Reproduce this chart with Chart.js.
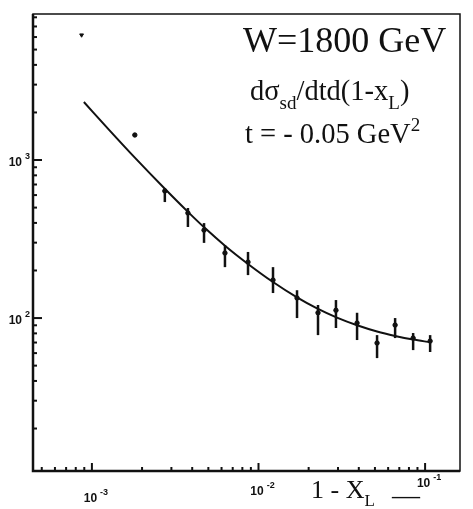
<!DOCTYPE html>
<html>
<head>
<meta charset="utf-8">
<script src="https://cdn.jsdelivr.net/npm/chart.js@4.4.0/dist/chart.umd.min.js"></script>
<style>
  html, body { margin: 0; padding: 0; background: #fff; }
</style>
</head>
<body>
<canvas id="sdChart" width="473" height="509"></canvas>
<script>
// measured points, 1 - x_L
var pointX = [8.67e-4, 1.81e-3, 2.74e-3, 3.77e-3, 4.71e-3, 6.29e-3, 8.65e-3, 0.01222,
              0.01703, 0.02276, 0.02917, 0.03905, 0.05148, 0.06607, 0.08476, 0.1072];
// d sigma_sd / dt d(1-x_L)
var pointY = [6180, 1440, 637, 462, 360, 258, 226, 174, 134, 108, 112, 93, 69.5, 90.3, 74.7, 71.5];
// error bar ends (null = no bar visible)
var errHigh = [null, null, 665, 497, 399, 290, 262, 210, 150, 121, 130, 108, 78, 100, 80.4, 78];
var errLow  = [null, null, 542, 377, 299, 210, 187, 144, 100, 78, 86.5, 72.6, 55.8, 74.7, 62.7, 61];

// fitted curve
var fitX = [8.95e-4, 1.28e-3, 1.81e-3, 2.74e-3, 3.77e-3, 4.77e-3, 6.29e-3, 8.65e-3, 0.01222,
            0.01703, 0.02245, 0.02958, 0.03905, 0.05148, 0.06607, 0.08476, 0.1072];
var fitY = [2328, 1535, 1035, 658, 470, 371, 287, 220, 169, 135, 115, 100.6, 90.0, 82.2, 77.1, 73.1, 70.3];

var xLabels = [1e-3, 1e-2, 1e-1];
var yLabels = [1e2, 1e3];

function isPow10(v)
{
    var l = Math.log10(v);
    return Math.abs(l - Math.round(l)) < 1e-6;
}

// only 1..9 x 10^k, skips the min/max end ticks
function isNice(v)
{
    var m = v / Math.pow(10, Math.floor(Math.log10(v) + 1e-9));
    return Math.abs(m - Math.round(m)) < 1e-6;
}

function inList(v, list)
{
    for (var i = 0; i < list.length; i++) {
        if (Math.abs(v / list[i] - 1) < 1e-6) return true;
    }
    return false;
}

// "10" with a raised exponent; align 'center' or 'right'
function drawPow(ctx, v, x, y, align)
{
    var e = String(Math.round(Math.log10(v)));
    ctx.font = 'bold 12px "Liberation Sans"';
    var wb = ctx.measureText('10').width;
    ctx.font = 'bold 9px "Liberation Sans"';
    var we = ctx.measureText(e).width;
    var gap = 3;
    var x0 = align === 'right' ? x - wb - gap - we : x - (wb + gap + we) / 2;
    ctx.font = 'bold 12px "Liberation Sans"';
    ctx.fillText('10', x0, y);
    ctx.font = 'bold 9px "Liberation Sans"';
    ctx.fillText(e, x0 + wb + gap, y - 7);
}

// draws a line of text made of normal / sub / sup parts
function drawRich(ctx, x, y, size, parts)
{
    parts.forEach(function (p) {
        var s = p.k ? Math.round(size * 0.65) : size;
        ctx.font = s + 'px "Liberation Serif"';
        var dy = p.k === 'sub' ? size * 0.3 : (p.k === 'sup' ? -size * 0.42 : 0);
        ctx.fillText(p.t, x, y + dy);
        x += ctx.measureText(p.t).width;
    });
}

var framePlugin = {
    id: 'framePlugin',
    beforeDraw: function (chart) {
        var ctx = chart.ctx;
        ctx.save();
        ctx.fillStyle = '#fff';
        ctx.fillRect(0, 0, chart.width, chart.height);
        ctx.restore();
    },
    afterDatasetsDraw: function (chart) {
        var ctx = chart.ctx, xs = chart.scales.x, ys = chart.scales.y;
        ctx.save();
        ctx.strokeStyle = '#111';
        ctx.lineWidth = 2.5;
        for (var i = 0; i < pointX.length; i++) {
            if (errHigh[i] === null) continue;
            var px = xs.getPixelForValue(pointX[i]);
            ctx.beginPath();
            ctx.moveTo(px, ys.getPixelForValue(errHigh[i]));
            ctx.lineTo(px, ys.getPixelForValue(errLow[i]));
            ctx.stroke();
        }
        ctx.restore();
    },
    afterDraw: function (chart) {
        var ctx = chart.ctx, a = chart.chartArea, xs = chart.scales.x, ys = chart.scales.y;
        ctx.save();
        ctx.strokeStyle = '#111';
        ctx.lineWidth = 1.5;
        ctx.strokeRect(a.left, a.top, a.right - a.left, a.bottom - a.top);
        ctx.lineWidth = 2.5;
        ctx.beginPath();
        ctx.moveTo(a.left, a.top);
        ctx.lineTo(a.left, a.bottom);
        ctx.lineTo(a.right, a.bottom);
        ctx.stroke();

        // inward ticks and decade labels
        ctx.fillStyle = '#111';
        ctx.textAlign = 'left';
        ctx.textBaseline = 'alphabetic';
        ctx.lineWidth = 2;
        xs.ticks.forEach(function (t) {
            if (!isNice(t.value)) return;
            var px = xs.getPixelForValue(t.value);
            var len = isPow10(t.value) ? 8 : 4;
            ctx.beginPath();
            ctx.moveTo(px, a.bottom);
            ctx.lineTo(px, a.bottom - len);
            ctx.stroke();
            // labels sit on the slightly tilted baseline of the scan
            if (inList(t.value, xLabels)) {
                drawPow(ctx, t.value, px + 4, a.bottom + 34 - 0.045 * (px - a.left), 'center');
            }
        });
        ys.ticks.forEach(function (t) {
            if (!isNice(t.value)) return;
            var py = ys.getPixelForValue(t.value);
            var len = isPow10(t.value) ? 9 : 4;
            ctx.beginPath();
            ctx.moveTo(a.left, py);
            ctx.lineTo(a.left + len, py);
            ctx.stroke();
            if (inList(t.value, yLabels)) drawPow(ctx, t.value, a.left - 3, py + 6, 'right');
        });

        // annotations
        drawRich(ctx, 243, 52, 36, [{t: 'W=1800 GeV'}]);
        drawRich(ctx, 250, 100, 28.5, [{t: 'd\u03C3'}, {t: 'sd', k: 'sub'}, {t: '/dtd(1-x'},
                                       {t: 'L', k: 'sub'}, {t: ')'}]);
        drawRich(ctx, 245, 143, 28.5, [{t: 't = - 0.05 GeV'}, {t: '2', k: 'sup'}]);
        // axis title
        drawRich(ctx, 311, 498, 26, [{t: '1 - X'}, {t: 'L', k: 'sub'}]);
        drawRich(ctx, 392, 504, 28, [{t: '\u2014'}]);
        ctx.restore();
    }
};

var ctx = document.getElementById('sdChart').getContext('2d');
var sdChart = new Chart(ctx, {
    type: 'scatter',
    data: {
        datasets: [
            {
                label: 'fit',
                data: fitX.map(function (x, i) { return {x: x, y: fitY[i]}; }),
                showLine: true,
                borderColor: '#111',
                borderWidth: 2,
                pointRadius: 0,
                cubicInterpolationMode: 'monotone'
            },
            {
                label: 'data',
                data: pointX.map(function (x, i) { return {x: x, y: pointY[i]}; }),
                backgroundColor: '#111',
                borderColor: '#111',
                borderWidth: 1,
                pointRadius: 2.2,
                pointStyle: pointX.map(function (x, i) { return i === 0 ? 'triangle' : 'circle'; }),
                rotation: pointX.map(function (x, i) { return i === 0 ? 180 : 0; })
            }
        ]
    },
    plugins: [framePlugin],
    options: {
        responsive: false,
        animation: false,
        layout: { padding: { top: 14, right: 13, left: 0, bottom: 0 } },
        plugins: {
            legend: { display: false },
            tooltip: { enabled: false }
        },
        scales: {
            x: {
                type: 'logarithmic',
                min: 4.43e-4,
                max: 0.162,
                afterFit: function (s) { s.height = 38; },
                grid: { display: false, drawTicks: false },
                border: { display: false },
                ticks: { display: false, autoSkip: false }
            },
            y: {
                type: 'logarithmic',
                min: 10.77,
                max: 8395,
                afterFit: function (s) { s.width = 33; },
                grid: { display: false, drawTicks: false },
                border: { display: false },
                ticks: { display: false, autoSkip: false }
            }
        }
    }
});
</script>
</body>
</html>
